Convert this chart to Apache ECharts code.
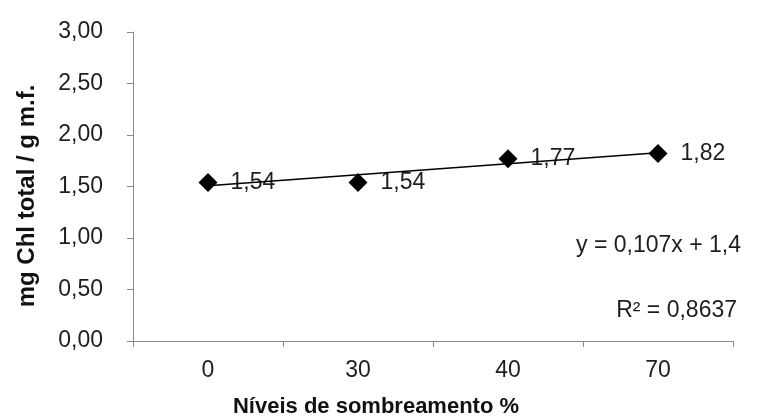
<!DOCTYPE html>
<html>
<head>
<meta charset="utf-8">
<script src="https://cdn.jsdelivr.net/npm/echarts@6/dist/echarts.min.js"></script>
<style>
  html, body { margin: 0; padding: 0; background: #fff; }
  #chart { width: 766px; height: 419px; }
</style>
</head>
<body>
<div id="chart"></div>
<script>
// Shading levels (%) and total chlorophyll per gram of fresh mass
const categories = ['0', '30', '40', '70'];
const chlValues = [1.54, 1.54, 1.77, 1.82];
const yTicks = { min: 0, max: 3, step: 0.5 };

// Linear trend as printed on the chart: y = 0,107x + 1,4 (x = level position 1..4)
const trendSlope = 0.107;
const trendIntercept = 1.4;
const rSquared = '0,8637';

const fmt = (v, d) => v.toFixed(d).replace('.', ',');
const trendAt = i => trendSlope * (i + 1) + trendIntercept;
const lastIdx = categories.length - 1;

const font = 'Liberation Sans, Arial, sans-serif';
const textColor = '#1e1e1e';
const axisColor = '#8a8a8a';

const chart = echarts.init(document.getElementById('chart'));
chart.setOption({
  animation: false,
  backgroundColor: '#fff',
  grid: { left: 133, right: 33, top: 32, bottom: 78 },
  xAxis: {
    type: 'category',
    data: categories,
    boundaryGap: true,
    axisLine: { lineStyle: { color: axisColor, width: 1 } },
    axisTick: { show: true, length: 6, lineStyle: { color: axisColor } },
    axisLabel: { color: textColor, fontFamily: font, fontSize: 23, margin: 18 },
    splitLine: { show: false }
  },
  yAxis: {
    type: 'value',
    min: yTicks.min,
    max: yTicks.max,
    interval: yTicks.step,
    axisLine: { show: true, lineStyle: { color: axisColor, width: 1 } },
    axisTick: { show: true, length: 6, lineStyle: { color: axisColor } },
    axisLabel: {
      color: textColor, fontFamily: font, fontSize: 23, margin: 30,
      formatter: v => fmt(v, 2)
    },
    splitLine: { show: false }
  },
  graphic: [
    {
      type: 'text',
      position: [376, 407],
      style: {
        text: 'Níveis de sombreamento %', x: 0, y: 0,
        font: 'bold 22px ' + font, fill: '#111',
        textAlign: 'center', textVerticalAlign: 'middle'
      }
    },
    {
      type: 'text',
      position: [27, 196],
      rotation: Math.PI / 2,
      style: {
        text: 'mg Chl total / g m.f.', x: 0, y: 0,
        font: 'bold 24px ' + font, fill: '#111',
        textAlign: 'center', textVerticalAlign: 'middle'
      }
    },
    {
      type: 'text',
      position: [741, 246],
      style: {
        text: 'y = ' + fmt(trendSlope, 3) + 'x + ' + fmt(trendIntercept, 1), x: 0, y: 0,
        font: '23px ' + font, fill: textColor,
        textAlign: 'right', textVerticalAlign: 'middle'
      }
    },
    {
      type: 'text',
      position: [737, 311],
      style: {
        text: 'R² = ' + rSquared, x: 0, y: 0,
        font: '23px ' + font, fill: textColor,
        textAlign: 'right', textVerticalAlign: 'middle'
      }
    }
  ],
  series: [
    {
      type: 'scatter',
      z: 2,
      symbol: 'diamond',
      symbolSize: 19,
      itemStyle: { color: '#000', opacity: 1 },
      label: {
        show: true, position: 'right', distance: 13,
        color: textColor, fontFamily: font, fontSize: 23,
        formatter: p => fmt(p.value, 2)
      },
      data: chlValues
    },
    {
      type: 'line',
      z: 5,
      symbol: 'none',
      silent: true,
      lineStyle: { color: '#000', width: 1.5 },
      data: [[0, trendAt(0)], [lastIdx, trendAt(lastIdx)]]
    }
  ]
});
</script>
</body>
</html>
